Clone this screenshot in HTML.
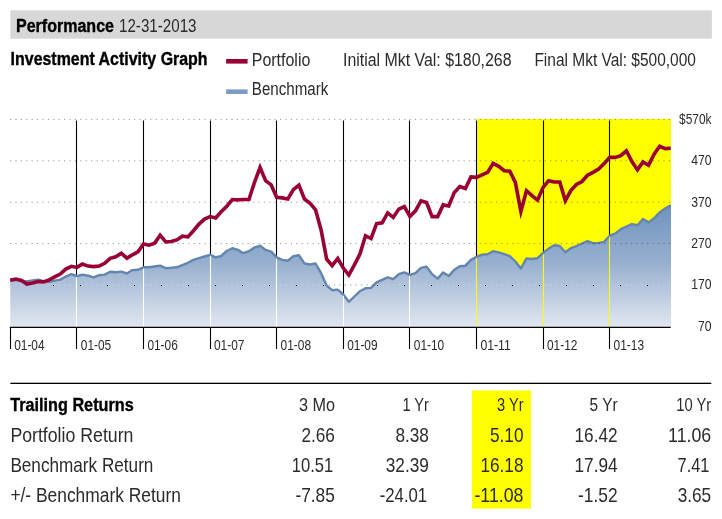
<!DOCTYPE html>
<html lang="en"><head><meta charset="utf-8"><title>Performance 12-31-2013</title>
<style>
html,body{margin:0;padding:0;background:#fff;}
body{width:722px;height:519px;overflow:hidden;font-family:"Liberation Sans",Arial,Helvetica,sans-serif;}
svg{display:block;}
text{font-family:"Liberation Sans",Arial,Helvetica,sans-serif;fill:#2b2b2b;}
.b{font-weight:bold;fill:#000;stroke:#000;stroke-width:0.35px;}
</style></head><body>
<svg width="722" height="519" viewBox="0 0 722 519">
<defs>
<linearGradient id="bg" gradientUnits="userSpaceOnUse" x1="0" y1="200" x2="0" y2="327">
<stop offset="0" stop-color="#6b90bc"/><stop offset="0.5" stop-color="#98b0cf"/><stop offset="1" stop-color="#e1e7f1"/>
</linearGradient>
</defs>
<rect x="0" y="0" width="722" height="519" fill="#ffffff"/>
<rect x="10.3" y="10.3" width="701.6" height="28.4" fill="#d7d7d7"/>
<rect x="476" y="119" width="195" height="208.3" fill="#ffff00"/>
<line x1="10" y1="119.4" x2="671" y2="119.4" stroke="#000" stroke-opacity="0.4" stroke-width="1" stroke-dasharray="1.2 4.2" />
<line x1="10" y1="160.8" x2="671" y2="160.8" stroke="#000" stroke-opacity="0.4" stroke-width="1" stroke-dasharray="1.2 4.2" />
<line x1="10" y1="202.2" x2="671" y2="202.2" stroke="#000" stroke-opacity="0.4" stroke-width="1" stroke-dasharray="1.2 4.2" />
<line x1="10" y1="243.6" x2="671" y2="243.6" stroke="#000" stroke-opacity="0.4" stroke-width="1" stroke-dasharray="1.2 4.2" />
<line x1="10" y1="285.0" x2="671" y2="285.0" stroke="#000" stroke-opacity="0.4" stroke-width="1" stroke-dasharray="1.2 4.2" />
<line x1="76.5" y1="120.5" x2="76.5" y2="327.3" stroke="#000" stroke-width="1.1"/>
<line x1="143.5" y1="120.5" x2="143.5" y2="327.3" stroke="#000" stroke-width="1.1"/>
<line x1="210.5" y1="120.5" x2="210.5" y2="327.3" stroke="#000" stroke-width="1.1"/>
<line x1="276.5" y1="120.5" x2="276.5" y2="327.3" stroke="#000" stroke-width="1.1"/>
<line x1="343.5" y1="120.5" x2="343.5" y2="327.3" stroke="#000" stroke-width="1.1"/>
<line x1="409.5" y1="120.5" x2="409.5" y2="327.3" stroke="#000" stroke-width="1.1"/>
<line x1="476.5" y1="120.5" x2="476.5" y2="327.3" stroke="#000" stroke-width="1.1"/>
<line x1="543.5" y1="120.5" x2="543.5" y2="327.3" stroke="#000" stroke-width="1.1"/>
<line x1="609.5" y1="120.5" x2="609.5" y2="327.3" stroke="#000" stroke-width="1.1"/>
<clipPath id="ac"><polygon points="10.30,327.3 10.30,280.7 15.85,279.9 21.40,280.7 26.95,281.5 32.50,280.4 38.05,279.6 43.60,281.2 49.15,281.9 54.70,280.7 60.25,279.6 65.80,276.6 71.35,274.1 76.90,276.2 82.45,274.6 88.00,275.7 93.55,277.4 99.10,275.2 104.65,274.6 110.20,271.7 115.75,272.3 121.30,271.6 126.85,273.5 132.40,270.1 137.95,269.8 143.50,267.3 149.05,267.3 154.60,266.5 160.15,265.6 165.70,268.1 171.25,267.8 176.80,267.3 182.35,265.1 187.90,262.8 193.45,259.8 199.00,258.2 204.55,256.5 210.10,254.8 215.65,257.3 221.20,256.0 226.75,251.0 232.30,248.2 237.85,249.9 243.40,253.2 248.95,251.2 254.50,247.4 260.05,245.8 265.60,249.9 271.15,251.6 276.70,257.4 282.25,259.9 287.80,260.7 293.35,256.2 298.90,255.2 304.45,263.5 310.00,264.5 315.55,263.5 321.10,273.2 326.65,285.6 332.20,290.2 337.75,289.6 343.30,294.5 348.85,301.8 354.40,296.5 359.95,291.2 365.50,288.2 371.05,287.9 376.60,282.4 382.15,279.9 387.70,277.4 393.25,279.1 398.80,274.1 404.35,272.4 409.90,274.9 415.45,273.2 421.00,267.9 426.55,266.6 432.10,274.1 437.65,278.6 443.20,272.4 448.75,276.1 454.30,269.8 459.85,266.2 465.40,265.7 470.95,259.9 476.50,256.9 482.05,254.6 487.60,254.2 493.15,251.2 498.70,252.4 504.25,254.1 509.80,256.2 515.35,261.5 520.90,268.5 526.45,258.5 532.00,259.0 537.55,258.2 543.10,252.9 548.65,248.6 554.20,245.2 559.75,246.0 565.30,252.3 570.85,248.2 576.40,246.2 581.95,243.5 587.50,241.2 593.05,243.2 598.60,242.9 604.15,241.9 609.70,235.7 615.25,233.5 620.80,229.1 626.35,226.6 631.90,224.1 637.45,225.2 643.00,219.1 648.55,222.4 654.10,218.3 659.65,212.4 665.20,208.6 670.75,205.3 671,205.3 671,327.3"/></clipPath>
<polygon points="10.30,327.3 10.30,280.7 15.85,279.9 21.40,280.7 26.95,281.5 32.50,280.4 38.05,279.6 43.60,281.2 49.15,281.9 54.70,280.7 60.25,279.6 65.80,276.6 71.35,274.1 76.90,276.2 82.45,274.6 88.00,275.7 93.55,277.4 99.10,275.2 104.65,274.6 110.20,271.7 115.75,272.3 121.30,271.6 126.85,273.5 132.40,270.1 137.95,269.8 143.50,267.3 149.05,267.3 154.60,266.5 160.15,265.6 165.70,268.1 171.25,267.8 176.80,267.3 182.35,265.1 187.90,262.8 193.45,259.8 199.00,258.2 204.55,256.5 210.10,254.8 215.65,257.3 221.20,256.0 226.75,251.0 232.30,248.2 237.85,249.9 243.40,253.2 248.95,251.2 254.50,247.4 260.05,245.8 265.60,249.9 271.15,251.6 276.70,257.4 282.25,259.9 287.80,260.7 293.35,256.2 298.90,255.2 304.45,263.5 310.00,264.5 315.55,263.5 321.10,273.2 326.65,285.6 332.20,290.2 337.75,289.6 343.30,294.5 348.85,301.8 354.40,296.5 359.95,291.2 365.50,288.2 371.05,287.9 376.60,282.4 382.15,279.9 387.70,277.4 393.25,279.1 398.80,274.1 404.35,272.4 409.90,274.9 415.45,273.2 421.00,267.9 426.55,266.6 432.10,274.1 437.65,278.6 443.20,272.4 448.75,276.1 454.30,269.8 459.85,266.2 465.40,265.7 470.95,259.9 476.50,256.9 482.05,254.6 487.60,254.2 493.15,251.2 498.70,252.4 504.25,254.1 509.80,256.2 515.35,261.5 520.90,268.5 526.45,258.5 532.00,259.0 537.55,258.2 543.10,252.9 548.65,248.6 554.20,245.2 559.75,246.0 565.30,252.3 570.85,248.2 576.40,246.2 581.95,243.5 587.50,241.2 593.05,243.2 598.60,242.9 604.15,241.9 609.70,235.7 615.25,233.5 620.80,229.1 626.35,226.6 631.90,224.1 637.45,225.2 643.00,219.1 648.55,222.4 654.10,218.3 659.65,212.4 665.20,208.6 670.75,205.3 671,205.3 671,327.3" fill="url(#bg)"/>
<polyline points="10.30,280.7 15.85,279.9 21.40,280.7 26.95,281.5 32.50,280.4 38.05,279.6 43.60,281.2 49.15,281.9 54.70,280.7 60.25,279.6 65.80,276.6 71.35,274.1 76.90,276.2 82.45,274.6 88.00,275.7 93.55,277.4 99.10,275.2 104.65,274.6 110.20,271.7 115.75,272.3 121.30,271.6 126.85,273.5 132.40,270.1 137.95,269.8 143.50,267.3 149.05,267.3 154.60,266.5 160.15,265.6 165.70,268.1 171.25,267.8 176.80,267.3 182.35,265.1 187.90,262.8 193.45,259.8 199.00,258.2 204.55,256.5 210.10,254.8 215.65,257.3 221.20,256.0 226.75,251.0 232.30,248.2 237.85,249.9 243.40,253.2 248.95,251.2 254.50,247.4 260.05,245.8 265.60,249.9 271.15,251.6 276.70,257.4 282.25,259.9 287.80,260.7 293.35,256.2 298.90,255.2 304.45,263.5 310.00,264.5 315.55,263.5 321.10,273.2 326.65,285.6 332.20,290.2 337.75,289.6 343.30,294.5 348.85,301.8 354.40,296.5 359.95,291.2 365.50,288.2 371.05,287.9 376.60,282.4 382.15,279.9 387.70,277.4 393.25,279.1 398.80,274.1 404.35,272.4 409.90,274.9 415.45,273.2 421.00,267.9 426.55,266.6 432.10,274.1 437.65,278.6 443.20,272.4 448.75,276.1 454.30,269.8 459.85,266.2 465.40,265.7 470.95,259.9 476.50,256.9 482.05,254.6 487.60,254.2 493.15,251.2 498.70,252.4 504.25,254.1 509.80,256.2 515.35,261.5 520.90,268.5 526.45,258.5 532.00,259.0 537.55,258.2 543.10,252.9 548.65,248.6 554.20,245.2 559.75,246.0 565.30,252.3 570.85,248.2 576.40,246.2 581.95,243.5 587.50,241.2 593.05,243.2 598.60,242.9 604.15,241.9 609.70,235.7 615.25,233.5 620.80,229.1 626.35,226.6 631.90,224.1 637.45,225.2 643.00,219.1 648.55,222.4 654.10,218.3 659.65,212.4 665.20,208.6 670.75,205.3" fill="none" stroke="#6385b0" stroke-width="2.4" stroke-linejoin="round"/>
<line x1="10" y1="243.6" x2="671" y2="243.6" stroke="#000" stroke-opacity="0.35" stroke-width="1" stroke-dasharray="1.2 4.2" clip-path="url(#ac)"/>
<line x1="10" y1="285.0" x2="671" y2="285.0" stroke="#d0d9e6" stroke-width="1" stroke-dasharray="1.2 4.2" clip-path="url(#ac)"/>
<line x1="26" y1="285.5" x2="671" y2="285.5" stroke="#000" stroke-width="1" stroke-dasharray="1 26" clip-path="url(#ac)"/>
<line x1="76.5" y1="277.4" x2="76.5" y2="327.3" stroke="#ffffff" stroke-width="1.1"/>
<line x1="143.5" y1="268.5" x2="143.5" y2="327.3" stroke="#ffffff" stroke-width="1.1"/>
<line x1="210.5" y1="256.0" x2="210.5" y2="327.3" stroke="#ffffff" stroke-width="1.1"/>
<line x1="276.5" y1="258.6" x2="276.5" y2="327.3" stroke="#ffffff" stroke-width="1.1"/>
<line x1="343.5" y1="295.7" x2="343.5" y2="327.3" stroke="#ffffff" stroke-width="1.1"/>
<line x1="409.5" y1="276.1" x2="409.5" y2="327.3" stroke="#ffffff" stroke-width="1.1"/>
<line x1="476.5" y1="258.1" x2="476.5" y2="327.3" stroke="#ffff00" stroke-width="1.1"/>
<line x1="543.5" y1="254.1" x2="543.5" y2="327.3" stroke="#ffff00" stroke-width="1.1"/>
<line x1="609.5" y1="236.9" x2="609.5" y2="327.3" stroke="#ffff00" stroke-width="1.1"/>
<line x1="9.8" y1="327.3" x2="670.7" y2="327.3" stroke="#000" stroke-width="1.2"/>
<line x1="10.5" y1="327.3" x2="10.5" y2="349" stroke="#000" stroke-width="1.1"/>
<line x1="76.5" y1="327.3" x2="76.5" y2="349" stroke="#000" stroke-width="1.1"/>
<line x1="143.5" y1="327.3" x2="143.5" y2="349" stroke="#000" stroke-width="1.1"/>
<line x1="210.5" y1="327.3" x2="210.5" y2="349" stroke="#000" stroke-width="1.1"/>
<line x1="276.5" y1="327.3" x2="276.5" y2="349" stroke="#000" stroke-width="1.1"/>
<line x1="343.5" y1="327.3" x2="343.5" y2="349" stroke="#000" stroke-width="1.1"/>
<line x1="409.5" y1="327.3" x2="409.5" y2="349" stroke="#000" stroke-width="1.1"/>
<line x1="476.5" y1="327.3" x2="476.5" y2="349" stroke="#000" stroke-width="1.1"/>
<line x1="543.5" y1="327.3" x2="543.5" y2="349" stroke="#000" stroke-width="1.1"/>
<line x1="609.5" y1="327.3" x2="609.5" y2="349" stroke="#000" stroke-width="1.1"/>
<polyline points="10.30,280.2 15.85,279.1 21.40,280.4 26.95,284.0 32.50,282.9 38.05,281.5 43.60,281.9 49.15,279.9 54.70,276.9 60.25,274.1 65.80,269.1 71.35,266.3 76.90,267.4 82.45,264.1 88.00,266.1 93.55,266.6 99.10,266.1 104.65,263.3 110.20,258.3 115.75,256.8 121.30,253.2 126.85,258.2 132.40,254.8 137.95,251.9 143.50,244.0 149.05,245.2 154.60,243.2 160.15,235.2 165.70,241.9 171.25,241.5 176.80,239.9 182.35,236.2 187.90,236.9 193.45,230.7 199.00,224.1 204.55,219.1 210.10,216.6 215.65,217.9 221.20,211.7 226.75,206.2 232.30,199.5 237.85,199.9 243.40,199.5 248.95,199.5 254.50,182.4 260.05,167.5 265.60,180.7 271.15,184.9 276.70,197.4 282.25,197.9 287.80,199.0 293.35,189.6 298.90,185.2 304.45,199.0 310.00,203.2 315.55,209.8 321.10,229.9 326.65,259.1 332.20,265.6 337.75,258.5 343.30,268.1 348.85,275.1 354.40,264.8 359.95,254.0 365.50,235.7 371.05,238.5 376.60,223.6 382.15,222.9 387.70,212.9 393.25,217.4 398.80,209.1 404.35,206.6 409.90,216.6 415.45,210.8 421.00,200.8 426.55,202.5 432.10,216.6 437.65,216.6 443.20,204.9 448.75,206.0 454.30,192.4 459.85,186.5 465.40,188.5 470.95,176.9 476.50,177.4 482.05,174.9 487.60,172.4 493.15,163.3 498.70,166.3 504.25,170.7 509.80,171.2 515.35,182.4 520.90,211.5 526.45,190.7 532.00,195.7 537.55,200.2 543.10,187.4 548.65,180.7 554.20,182.0 559.75,182.0 565.30,200.6 570.85,190.6 576.40,184.5 581.95,181.5 587.50,175.2 593.05,172.4 598.60,169.0 604.15,163.6 609.70,157.4 615.25,157.4 620.80,155.7 626.35,150.8 631.90,161.6 637.45,169.9 643.00,161.9 648.55,165.2 654.10,154.1 659.65,146.3 665.20,148.6 670.75,148.3" fill="none" stroke="#990033" stroke-width="3.6" stroke-linejoin="miter" stroke-miterlimit="10"/>
<rect x="226.1" y="59" width="21.5" height="4.6" fill="#990033"/>
<rect x="226.1" y="89.4" width="21.5" height="4.6" fill="#7a9cc6"/>
<text x="16.0" y="31.6" font-size="17.5" class="b" textLength="98" lengthAdjust="spacingAndGlyphs">Performance</text>
<text x="119.0" y="31.6" font-size="17.5" textLength="77.5" lengthAdjust="spacingAndGlyphs">12-31-2013</text>
<text x="10.6" y="65.4" font-size="17.5" class="b" textLength="197" lengthAdjust="spacingAndGlyphs">Investment Activity Graph</text>
<text x="251.8" y="65.5" font-size="17.5" textLength="58.5" lengthAdjust="spacingAndGlyphs">Portfolio</text>
<text x="251.8" y="95.4" font-size="17.5" textLength="76.5" lengthAdjust="spacingAndGlyphs">Benchmark</text>
<text x="343.0" y="65.7" font-size="17.5" textLength="168.5" lengthAdjust="spacingAndGlyphs">Initial Mkt Val: $180,268</text>
<text x="534.4" y="65.7" font-size="17.5" textLength="161.5" lengthAdjust="spacingAndGlyphs">Final Mkt Val: $500,000</text>
<text x="711.5" y="123.8" font-size="14.2" text-anchor="end" textLength="32.5" lengthAdjust="spacingAndGlyphs">$570k</text>
<text x="711.5" y="165.2" font-size="14.2" text-anchor="end" textLength="20.3" lengthAdjust="spacingAndGlyphs">470</text>
<text x="711.5" y="206.6" font-size="14.2" text-anchor="end" textLength="20.3" lengthAdjust="spacingAndGlyphs">370</text>
<text x="711.5" y="248.0" font-size="14.2" text-anchor="end" textLength="20.3" lengthAdjust="spacingAndGlyphs">270</text>
<text x="711.5" y="289.4" font-size="14.2" text-anchor="end" textLength="20.3" lengthAdjust="spacingAndGlyphs">170</text>
<text x="711.5" y="331.2" font-size="14.2" text-anchor="end" textLength="13.5" lengthAdjust="spacingAndGlyphs">70</text>
<text x="14.2" y="350.0" font-size="14.2" textLength="30.4" lengthAdjust="spacingAndGlyphs">01-04</text>
<text x="80.8" y="350.0" font-size="14.2" textLength="30.4" lengthAdjust="spacingAndGlyphs">01-05</text>
<text x="147.4" y="350.0" font-size="14.2" textLength="30.4" lengthAdjust="spacingAndGlyphs">01-06</text>
<text x="214.0" y="350.0" font-size="14.2" textLength="30.4" lengthAdjust="spacingAndGlyphs">01-07</text>
<text x="280.6" y="350.0" font-size="14.2" textLength="30.4" lengthAdjust="spacingAndGlyphs">01-08</text>
<text x="347.2" y="350.0" font-size="14.2" textLength="30.4" lengthAdjust="spacingAndGlyphs">01-09</text>
<text x="413.8" y="350.0" font-size="14.2" textLength="30.4" lengthAdjust="spacingAndGlyphs">01-10</text>
<text x="480.4" y="350.0" font-size="14.2" textLength="30.4" lengthAdjust="spacingAndGlyphs">01-11</text>
<text x="547.0" y="350.0" font-size="14.2" textLength="30.4" lengthAdjust="spacingAndGlyphs">01-12</text>
<text x="613.6" y="350.0" font-size="14.2" textLength="30.4" lengthAdjust="spacingAndGlyphs">01-13</text>
<rect x="10.4" y="382.7" width="700.9" height="1.3" fill="#000"/>
<rect x="471.9" y="390.4" width="59.1" height="118.2" fill="#ffff00"/>
<text x="10.2" y="411.1" font-size="17.5" class="b" textLength="123.5" lengthAdjust="spacingAndGlyphs">Trailing Returns</text>
<text x="10.4" y="441.7" font-size="19.8" textLength="123" lengthAdjust="spacingAndGlyphs">Portfolio Return</text>
<text x="10.4" y="472.0" font-size="19.8" textLength="143" lengthAdjust="spacingAndGlyphs">Benchmark Return</text>
<text x="10.4" y="502.1" font-size="19.8" textLength="170.5" lengthAdjust="spacingAndGlyphs">+/- Benchmark Return</text>
<text x="334.9" y="411.1" font-size="17.5" text-anchor="end" textLength="36" lengthAdjust="spacingAndGlyphs">3 Mo</text>
<text x="428.9" y="411.1" font-size="17.5" text-anchor="end" textLength="26.5" lengthAdjust="spacingAndGlyphs">1 Yr</text>
<text x="523.5" y="411.1" font-size="17.5" text-anchor="end" textLength="26.5" lengthAdjust="spacingAndGlyphs">3 Yr</text>
<text x="617.6" y="411.1" font-size="17.5" text-anchor="end" textLength="28" lengthAdjust="spacingAndGlyphs">5 Yr</text>
<text x="711.2" y="411.1" font-size="17.5" text-anchor="end" textLength="35" lengthAdjust="spacingAndGlyphs">10 Yr</text>
<text x="334.9" y="441.6" font-size="19.8" text-anchor="end" textLength="33.5" lengthAdjust="spacingAndGlyphs">2.66</text>
<text x="428.9" y="441.6" font-size="19.8" text-anchor="end" textLength="33.5" lengthAdjust="spacingAndGlyphs">8.38</text>
<text x="523.5" y="441.6" font-size="19.8" text-anchor="end" textLength="33.5" lengthAdjust="spacingAndGlyphs">5.10</text>
<text x="617.6" y="441.6" font-size="19.8" text-anchor="end" textLength="43.1" lengthAdjust="spacingAndGlyphs">16.42</text>
<text x="711.2" y="441.6" font-size="19.8" text-anchor="end" textLength="43.1" lengthAdjust="spacingAndGlyphs">11.06</text>
<text x="333.2" y="471.8" font-size="19.8" text-anchor="end" textLength="41.5" lengthAdjust="spacingAndGlyphs">10.51</text>
<text x="428.9" y="471.8" font-size="19.8" text-anchor="end" textLength="43.1" lengthAdjust="spacingAndGlyphs">32.39</text>
<text x="523.5" y="471.8" font-size="19.8" text-anchor="end" textLength="43.1" lengthAdjust="spacingAndGlyphs">16.18</text>
<text x="617.6" y="471.8" font-size="19.8" text-anchor="end" textLength="43.1" lengthAdjust="spacingAndGlyphs">17.94</text>
<text x="709.5" y="471.8" font-size="19.8" text-anchor="end" textLength="31.9" lengthAdjust="spacingAndGlyphs">7.41</text>
<text x="334.9" y="502.0" font-size="19.8" text-anchor="end" textLength="39.5" lengthAdjust="spacingAndGlyphs">-7.85</text>
<text x="427.2" y="502.0" font-size="19.8" text-anchor="end" textLength="47.5" lengthAdjust="spacingAndGlyphs">-24.01</text>
<text x="523.5" y="502.0" font-size="19.8" text-anchor="end" textLength="49.1" lengthAdjust="spacingAndGlyphs">-11.08</text>
<text x="617.6" y="502.0" font-size="19.8" text-anchor="end" textLength="39.5" lengthAdjust="spacingAndGlyphs">-1.52</text>
<text x="711.2" y="502.0" font-size="19.8" text-anchor="end" textLength="33.5" lengthAdjust="spacingAndGlyphs">3.65</text>
</svg>
</body></html>
